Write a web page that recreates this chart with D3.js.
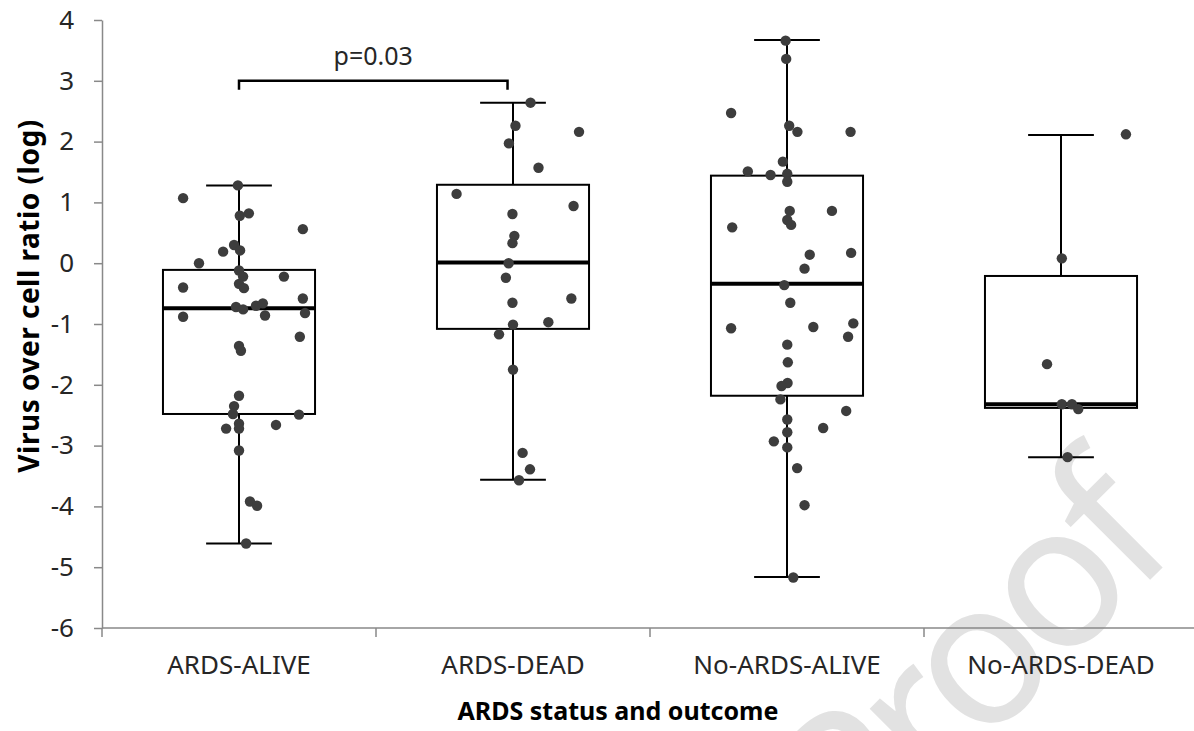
<!DOCTYPE html>
<html>
<head lang="en">
    <meta charset="UTF-8">
    <script type="text/javascript" src="https://d3js.org/d3.v7.min.js"></script>
    <style>
        body { margin: 0; background: #ffffff; }
        text { font-family: "Noto Sans", "Open Sans", sans-serif; }
    </style>
</head>
<body>
    <svg id="chart" width="1194" height="731"></svg>
    <script>

        // categories and axis ticks
        var categories = ["ARDS-ALIVE", "ARDS-DEAD", "No-ARDS-ALIVE", "No-ARDS-DEAD"];
        var yTicks = [-6, -5, -4, -3, -2, -1, 0, 1, 2, 3, 4];

        // box statistics per category
        var whiskerLow  = [-4.61, -3.56, -5.16, -3.19];
        var q1          = [-2.48, -1.08, -2.18, -2.38];
        var median      = [-0.74,  0.01, -0.34, -2.32];
        var q3          = [-0.11,  1.29,  1.44, -0.21];
        var whiskerHigh = [ 1.28,  2.64,  3.67,  2.11];

        // individual patients (log ratio) and horizontal jitter (% of category width)
        var ardsAlive = [1.07, 1.28, 0.78, 0.82, 0.56, 0.30, 0.19, 0.21, 0.00, -0.12, -0.22, -0.22, -0.34, -0.41, -0.40,
            -0.58, -0.72, -0.76, -0.70, -0.66, -0.88, -0.86, -0.82, -1.21, -1.36, -1.44, -2.18, -2.35, -2.48, -2.49,
            -2.64, -2.72, -2.72, -2.66, -3.08, -3.92, -3.99, -4.61];
        var ardsAliveJitter = [-20.4, -0.4, 0.3, 3.6, 23.3, -1.8, -5.8, 0.4, -14.6, 0, 1.5, 16.4, 0, 1.8, -20.4,
            23.3, -1.1, 1.5, 6.2, 8.7, -20.4, 9.5, 24.1, 22.2, 0, 0.7, 0, -1.8, -2.2, 21.9,
            0, -4.7, 0, 13.5, 0, 4.0, 6.6, 2.6];

        var ardsDead = [2.64, 2.26, 2.16, 1.97, 1.57, 1.14, 0.94, 0.81, 0.45, 0.33, 0.00, -0.24, -0.58, -0.65,
            -0.97, -1.01, -1.17, -1.75, -3.12, -3.39, -3.57];
        var ardsDeadJitter = [6.4, 0.9, 24.1, -1.5, 9.3, -20.6, 22.1, -0.2, 0.5, -0.2, -1.6, -2.6, 21.3, -0.2,
            12.9, 0, -5.1, 0, 3.5, 6.2, 2.2];

        var noArdsAlive = [3.66, 3.36, 2.47, 2.26, 2.16, 2.16, 1.67, 1.51, 1.45, 1.47, 1.34, 0.86, 0.86, 0.71, 0.63,
            0.59, 0.17, 0.14, -0.09, -0.36, -0.65, -1.07, -1.05, -0.99, -1.21, -1.34, -1.63, -1.97, -2.02, -2.24,
            -2.43, -2.57, -2.71, -2.78, -2.93, -3.03, -3.37, -3.98, -5.17];
        var noArdsAliveJitter = [-0.5, -0.3, -20.4, 0.8, 3.8, 23.2, -1.5, -14.3, -6.0, 0.1, 0.1, 1.0, 16.4, 0.1, 1.5,
            -20.0, 23.4, 8.3, 6.4, -1.0, 1.2, -20.4, 9.6, 24.2, 22.3, 0.1, 0.3, 0.2, -2.0, -2.4,
            21.6, 0.1, 13.2, 0.1, -4.8, 0.1, 3.7, 6.4, 2.3];

        var noArdsDead = [2.12, 0.08, -1.66, -2.32, -2.32, -2.40, -3.19];
        var noArdsDeadJitter = [23.7, 0.3, -5.1, 0.3, 4.0, 6.3, 2.4];

        var pointValues = [ardsAlive, ardsDead, noArdsAlive, noArdsDead];
        var pointJitter = [ardsAliveJitter, ardsDeadJitter, noArdsAliveJitter, noArdsDeadJitter];

        // significance bracket
        var bracketFrom = "ARDS-ALIVE";
        var bracketTo = "ARDS-DEAD";
        var bracketLevel = 3;
        var bracketLabel = "p=0.03";

        var svg = d3.select("#chart");
        var axisColor = "#898989";
        var textColor = "#262626";

        var xScale = d3.scaleBand().domain(categories).range([102, 1198]).padding(0);
        var yScale = d3.scaleLinear().domain([-6, 4]).range([628, 20]);
        var bw = xScale.bandwidth();
        var jitterScale = d3.scaleLinear().domain([-50, 50]).range([-bw / 2, bw / 2]);
        var boxW = bw * 0.555;
        var capW = bw * 0.24;

        function cx(c) { return xScale(c) + bw / 2; }

        // watermark (underneath everything)
        svg.append("text")
            .attr("transform", "translate(1175,555) rotate(-45)")
            .attr("text-anchor", "end")
            .style("font-size", "200px")
            .style("letter-spacing", "-12px")
            .attr("fill", "#e2e2e2")
            .text("Proof");

        // y axis
        var yAxis = svg.append("g")
            .attr("transform", "translate(102,0)")
            .call(d3.axisLeft(yScale).tickValues(yTicks).tickSize(8).tickSizeOuter(0).tickPadding(20)
                .tickFormat(d3.format("d")));
        yAxis.select(".domain").attr("stroke", axisColor).attr("stroke-width", 1.5);
        yAxis.selectAll(".tick line").attr("stroke", axisColor).attr("stroke-width", 1.5);
        yAxis.selectAll(".tick text").attr("fill", textColor).style("font-size", "26px")
            .text(function(d){ return d < 0 ? "-" + Math.abs(d) : d; });

        // x axis: labels at band centres, ticks at band edges
        var xAxis = svg.append("g")
            .attr("transform", "translate(0,628)")
            .call(d3.axisBottom(xScale).tickSize(0).tickPadding(28));
        xAxis.select(".domain").remove();
        xAxis.selectAll(".tick text").attr("fill", textColor).style("font-size", "26px");
        var edges = categories.map(function(c){ return xScale(c); }).concat([xScale.range()[1]]);
        svg.append("line")
            .attr("x1", xScale.range()[0]).attr("x2", xScale.range()[1])
            .attr("y1", yScale(-6)).attr("y2", yScale(-6))
            .attr("stroke", axisColor).attr("stroke-width", 1.5);
        svg.selectAll(".xedge")
            .data(edges)
            .enter()
            .append("line")
            .attr("class", "xedge")
            .attr("x1", function(d){ return d; }).attr("x2", function(d){ return d; })
            .attr("y1", yScale(-6)).attr("y2", yScale(-6) + 9)
            .attr("stroke", axisColor).attr("stroke-width", 1.5);

        // axis titles
        svg.append("text")
            .attr("transform", "translate(39,296) rotate(-90)")
            .attr("text-anchor", "middle")
            .style("font-size", "28px")
            .style("letter-spacing", "0.5px")
            .style("font-weight", "bold")
            .attr("fill", "#000")
            .text("Virus over cell ratio (log)");
        svg.append("text")
            .attr("x", 618)
            .attr("y", 720)
            .attr("text-anchor", "middle")
            .style("font-size", "25px")
            .style("font-weight", "bold")
            .attr("fill", "#000")
            .text("ARDS status and outcome");

        // boxes
        var boxes = svg.selectAll(".box")
            .data(categories)
            .enter()
            .append("g")
            .attr("class", "box");

        // whisker stems
        boxes.append("line")
            .attr("x1", cx).attr("x2", cx)
            .attr("y1", function(d,i){ return yScale(whiskerHigh[i]); })
            .attr("y2", function(d,i){ return yScale(whiskerLow[i]); })
            .attr("stroke", "#000").attr("stroke-width", 2);
        // caps
        [whiskerHigh, whiskerLow].forEach(function(arr){
            boxes.append("line")
                .attr("x1", function(d){ return cx(d) - capW / 2; })
                .attr("x2", function(d){ return cx(d) + capW / 2; })
                .attr("y1", function(d,i){ return yScale(arr[i]); })
                .attr("y2", function(d,i){ return yScale(arr[i]); })
                .attr("stroke", "#000").attr("stroke-width", 2);
        });
        boxes.append("rect")
            .attr("x", function(d){ return cx(d) - boxW / 2; })
            .attr("width", boxW)
            .attr("y", function(d,i){ return yScale(q3[i]); })
            .attr("height", function(d,i){ return yScale(q1[i]) - yScale(q3[i]); })
            .attr("fill", "#fff")
            .attr("stroke", "#000").attr("stroke-width", 2);
        boxes.append("line")
            .attr("x1", function(d){ return cx(d) - boxW / 2; })
            .attr("x2", function(d){ return cx(d) + boxW / 2; })
            .attr("y1", function(d,i){ return yScale(median[i]); })
            .attr("y2", function(d,i){ return yScale(median[i]); })
            .attr("stroke", "#000").attr("stroke-width", 4);

        // points
        categories.forEach(function(c, k){
            var pts = pointValues[k].map(function(v, j){ return { v: v, j: pointJitter[k][j] }; });
            svg.append("g")
                .selectAll("circle")
                .data(pts)
                .enter()
                .append("circle")
                .attr("cx", function(d){ return cx(c) + jitterScale(d.j); })
                .attr("cy", function(d){ return yScale(d.v); })
                .attr("r", 5.2)
                .attr("fill", "#3d3d3d");
        });

        // significance bracket
        var bx0 = cx(bracketFrom);
        var bx1 = cx(bracketTo) - bw * 0.02;
        var by = yScale(bracketLevel);
        svg.append("path")
            .attr("d", "M" + bx0 + "," + (by + 9) + "V" + by + "H" + bx1 + "V" + (by + 9))
            .attr("fill", "none")
            .attr("stroke", "#000").attr("stroke-width", 2.5);
        svg.append("text")
            .attr("x", (bx0 + bx1) / 2)
            .attr("y", by - 16)
            .attr("text-anchor", "middle")
            .style("font-size", "25px")
            .attr("fill", textColor)
            .text(bracketLabel);

    </script>
</body>
</html>
